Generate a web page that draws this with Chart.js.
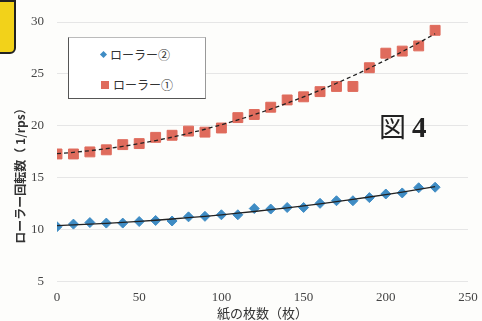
<!DOCTYPE html>
<html>
<head>
<meta charset="utf-8">
<script src="https://cdn.jsdelivr.net/npm/chart.js@4"></script>
<style>
  html, body { margin: 0; padding: 0; background: #fdfdfb; }
  #wrap { position: relative; width: 482px; height: 321px; }
  #legendBox {
    position: absolute; left: 68px; top: 37px; width: 136px; height: 60px;
    border: 1px solid #555; border-top-color: #bbb; border-right-color: #999;
    background: #fff; font-family: "Noto Sans CJK JP", sans-serif; font-size: 12px; color: #333;
  }
  .item { position: absolute; left: 32px; display: flex; align-items: center; }
  .mark { display: inline-block; margin-right: 4px; }
  #fig { position: absolute; left: 379px; top: 106px; font-size: 27px; color: #222; white-space: nowrap; }
  #fig .kanji { font-family: "Noto Sans CJK JP", sans-serif; }
  #fig .num { font-family: "Liberation Serif", serif; font-weight: bold; font-size: 29px; margin-left: 6px; }
  #yTitle {
    position: absolute; left: 19px; top: 173px; transform: translate(-50%, -50%) rotate(-90deg);
    white-space: nowrap; font-family: "Noto Sans CJK JP", sans-serif; font-size: 12px; font-weight: bold; color: #333;
  }
  #tab { position: absolute; left: -4px; top: 0px; width: 16px; height: 50px; background: #f2d21a; border: 2px solid #222; border-radius: 0 0 6px 0; }
</style>
</head>
<body>
<div id="wrap">
  <canvas id="chart" width="482" height="321"></canvas>
  <div id="tab"></div>
  <div id="legendBox">
    <div class="item" style="top:8px"><span class="mark" style="width:5px;height:5px;background:#3f8cc4;transform:rotate(45deg)"></span>ローラー②</div>
    <div class="item" style="top:38px"><span class="mark" style="width:8px;height:8px;background:#df6b5c"></span>ローラー①</div>
  </div>
  <div id="fig"><span class="kanji">図</span><span class="num">4</span></div>
  <div id="yTitle">ローラー回転数（ 1/rps）</div>
</div>
<script>
// sheets of paper (x axis)
const sheets = [0, 10, 20, 30, 40, 50, 60, 70, 80, 90, 100, 110, 120, 130, 140, 150, 160, 170, 180, 190, 200, 210, 220, 230];
// roller 1 (red squares)
const roller1 = [17.3, 17.3, 17.5, 17.7, 18.2, 18.3, 18.9, 19.1, 19.5, 19.4, 19.8, 20.8, 21.1, 21.8, 22.5, 22.8, 23.3, 23.8, 23.8, 25.6, 27.0, 27.2, 27.7, 29.2];
// roller 2 (blue diamonds)
const roller2 = [10.3, 10.55, 10.7, 10.65, 10.65, 10.8, 10.9, 10.85, 11.25, 11.3, 11.45, 11.45, 12.05, 12.0, 12.15, 12.15, 12.55, 12.8, 12.8, 13.1, 13.45, 13.55, 14.05, 14.1];

const xTicks = [0, 50, 100, 150, 200, 250];
const yTicks = [5, 10, 15, 20, 25, 30];

// quadratic least squares trendline, like the spreadsheet's polynomial trendline
const polyFit = (xs, ys) => {
  let s = [0, 0, 0, 0, 0], t = [0, 0, 0];
  xs.forEach((x, i) => {
    for (let k = 0; k < 5; k++) s[k] += Math.pow(x, k);
    for (let k = 0; k < 3; k++) t[k] += Math.pow(x, k) * ys[i];
  });
  const m = [[s[0], s[1], s[2], t[0]], [s[1], s[2], s[3], t[1]], [s[2], s[3], s[4], t[2]]];
  for (let c = 0; c < 3; c++) {
    for (let r = c + 1; r < 3; r++) {
      const f = m[r][c] / m[c][c];
      for (let k = c; k < 4; k++) m[r][k] -= f * m[c][k];
    }
  }
  const a = [0, 0, 0];
  for (let r = 2; r >= 0; r--) {
    let v = m[r][3];
    for (let k = r + 1; k < 3; k++) v -= m[r][k] * a[k];
    a[r] = v / m[r][r];
  }
  return xs.map(x => ({ x, y: a[0] + a[1] * x + a[2] * x * x }));
};

const toPoints = (ys) => sheets.map((x, i) => ({ x, y: ys[i] }));

const tickFont = { family: '"Liberation Serif", serif', size: 13 };

new Chart(document.getElementById('chart').getContext('2d'), {
  type: 'scatter',
  data: {
    datasets: [
      {
        label: 'ローラー② 近似',
        data: polyFit(sheets, roller2),
        showLine: true, borderColor: '#222', borderWidth: 1.3, pointRadius: 0, order: 0
      },
      {
        label: 'ローラー① 近似',
        data: polyFit(sheets, roller1),
        showLine: true, borderColor: '#222', borderWidth: 1.3, borderDash: [4, 3], pointRadius: 0, order: 0
      },
      {
        label: 'ローラー②',
        data: toPoints(roller2),
        pointStyle: 'rectRot', pointRadius: 5, backgroundColor: '#3f8cc4', borderColor: '#3f8cc4', order: 1
      },
      {
        label: 'ローラー①',
        data: toPoints(roller1),
        pointStyle: 'rect', pointRadius: 7, backgroundColor: '#df6b5c', borderColor: '#df6b5c', order: 1
      }
    ]
  },
  options: {
    responsive: false,
    animation: false,
    layout: { padding: { top: 22, right: 14, left: 18, bottom: 0 } },
    plugins: {
      legend: { display: false },
      tooltip: { enabled: false }
    },
    scales: {
      x: {
        type: 'linear', min: 0, max: 250,
        afterBuildTicks: (axis) => { axis.ticks = xTicks.map(v => ({ value: v })); },
        afterFit: (axis) => { axis.paddingRight = 0; },
        grid: { display: false, drawTicks: false },
        border: { display: false },
        ticks: { font: tickFont, color: '#444', padding: 8 },
        title: { display: true, text: '紙の枚数（枚）', font: { family: '"Noto Sans CJK JP", sans-serif', size: 13 }, color: '#333', padding: { top: -8, bottom: 0 } }
      },
      y: {
        min: 5, max: 30,
        afterBuildTicks: (axis) => { axis.ticks = yTicks.map(v => ({ value: v })); },
        grid: { color: '#e6e6e6', drawTicks: false },
        border: { display: false },
        ticks: { font: tickFont, color: '#444', padding: 13 }
      }
    }
  }
});
</script>
</body>
</html>
